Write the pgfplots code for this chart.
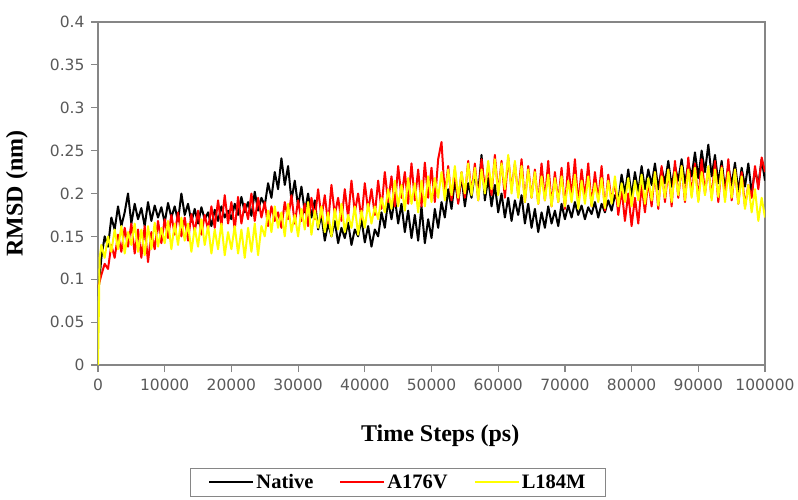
\documentclass[border=0pt]{standalone}
\usepackage{fontspec}
\setmainfont{Liberation Serif}
\newfontfamily\tickfont{DejaVu Sans}
\usepackage{pgfplots}
\pgfplotsset{compat=1.18}
\usepackage{pgfplotstable}
\definecolor{axgray}{HTML}{868686}
\definecolor{ticktext}{HTML}{595959}
\definecolor{myyellow}{HTML}{FFFF00}
\definecolor{myred}{HTML}{FF0000}

\pgfplotstableread{
x y
0 0.080
500 0.125
1000 0.150
1500 0.138
2000 0.172
2500 0.158
3000 0.185
3500 0.162
4000 0.178
4500 0.200
5000 0.165
5500 0.188
6000 0.170
6500 0.183
7000 0.162
7500 0.190
8000 0.168
8500 0.186
9000 0.172
9500 0.184
10000 0.166
10500 0.189
11000 0.172
11500 0.185
12000 0.168
12500 0.200
13000 0.175
13500 0.188
14000 0.167
14500 0.182
15000 0.165
15500 0.184
16000 0.170
16500 0.178
17000 0.162
17500 0.181
18000 0.168
18500 0.185
19000 0.172
19500 0.180
20000 0.170
20500 0.188
21000 0.175
21500 0.196
22000 0.178
22500 0.190
23000 0.174
23500 0.202
24000 0.180
24500 0.195
25000 0.186
25500 0.212
26000 0.195
26500 0.225
27000 0.205
27500 0.241
28000 0.210
28500 0.232
29000 0.192
29500 0.215
30000 0.185
30500 0.208
31000 0.178
31500 0.200
32000 0.172
32500 0.192
33000 0.158
33500 0.175
34000 0.145
34500 0.165
35000 0.150
35500 0.168
36000 0.142
36500 0.160
37000 0.148
37500 0.166
38000 0.140
38500 0.158
39000 0.150
39500 0.170
40000 0.143
40500 0.162
41000 0.138
41500 0.158
42000 0.150
42500 0.178
43000 0.160
43500 0.192
44000 0.170
44500 0.195
45000 0.165
45500 0.188
46000 0.155
46500 0.180
47000 0.148
47500 0.175
48000 0.145
48500 0.185
49000 0.142
49500 0.170
50000 0.148
50500 0.182
51000 0.160
51500 0.190
52000 0.172
52500 0.205
53000 0.182
53500 0.215
54000 0.190
54500 0.220
55000 0.185
55500 0.212
56000 0.195
56500 0.225
57000 0.200
57500 0.245
58000 0.192
58500 0.218
59000 0.185
59500 0.210
60000 0.178
60500 0.200
61000 0.172
61500 0.195
62000 0.168
62500 0.192
63000 0.175
63500 0.198
64000 0.165
64500 0.188
65000 0.160
65500 0.182
66000 0.155
66500 0.178
67000 0.160
67500 0.185
68000 0.165
68500 0.180
69000 0.162
69500 0.188
70000 0.170
70500 0.186
71000 0.172
71500 0.190
72000 0.175
72500 0.186
73000 0.170
73500 0.184
74000 0.176
74500 0.190
75000 0.172
75500 0.188
76000 0.178
76500 0.192
77000 0.180
77500 0.198
78000 0.190
78500 0.222
79000 0.200
79500 0.228
80000 0.196
80500 0.225
81000 0.202
81500 0.232
82000 0.205
82500 0.228
83000 0.210
83500 0.235
84000 0.205
84500 0.230
85000 0.212
85500 0.238
86000 0.208
86500 0.232
87000 0.215
87500 0.240
88000 0.212
88500 0.235
89000 0.220
89500 0.248
90000 0.218
90500 0.250
91000 0.225
91500 0.257
92000 0.220
92500 0.245
93000 0.212
93500 0.238
94000 0.205
94500 0.232
95000 0.210
95500 0.236
96000 0.202
96500 0.230
97000 0.208
97500 0.235
98000 0.200
98500 0.228
99000 0.210
99500 0.240
100000 0.215
}\native

\pgfplotstableread{
x y
0 0.090
500 0.105
1000 0.118
1500 0.112
2000 0.140
2500 0.125
3000 0.152
3500 0.132
4000 0.160
4500 0.138
5000 0.165
5500 0.130
6000 0.158
6500 0.125
7000 0.162
7500 0.120
8000 0.155
8500 0.135
9000 0.168
9500 0.142
10000 0.170
10500 0.148
11000 0.175
11500 0.152
12000 0.178
12500 0.150
13000 0.172
13500 0.145
14000 0.176
14500 0.155
15000 0.180
15500 0.152
16000 0.175
16500 0.158
17000 0.185
17500 0.160
18000 0.192
18500 0.162
19000 0.198
19500 0.165
20000 0.190
20500 0.158
21000 0.196
21500 0.165
22000 0.188
22500 0.170
23000 0.200
23500 0.168
24000 0.195
24500 0.172
25000 0.190
25500 0.162
26000 0.185
26500 0.168
27000 0.178
27500 0.160
28000 0.190
28500 0.170
29000 0.198
29500 0.165
30000 0.192
30500 0.168
31000 0.188
31500 0.162
32000 0.195
32500 0.170
33000 0.205
33500 0.172
34000 0.198
34500 0.165
35000 0.210
35500 0.175
36000 0.195
36500 0.168
37000 0.205
37500 0.172
38000 0.215
38500 0.178
39000 0.200
39500 0.170
40000 0.212
40500 0.180
41000 0.205
41500 0.175
42000 0.215
42500 0.182
43000 0.225
43500 0.190
44000 0.220
44500 0.185
45000 0.232
45500 0.195
46000 0.225
46500 0.188
47000 0.235
47500 0.192
48000 0.228
48500 0.185
49000 0.236
49500 0.195
50000 0.230
50500 0.190
51000 0.240
51500 0.260
52000 0.198
52500 0.232
53000 0.192
53500 0.228
54000 0.188
54500 0.225
55000 0.195
55500 0.238
56000 0.200
56500 0.235
57000 0.192
57500 0.240
58000 0.205
58500 0.232
59000 0.198
59500 0.245
60000 0.200
60500 0.238
61000 0.195
61500 0.242
62000 0.205
62500 0.235
63000 0.198
63500 0.240
64000 0.190
64500 0.232
65000 0.195
65500 0.228
66000 0.188
66500 0.235
67000 0.192
67500 0.238
68000 0.185
68500 0.225
69000 0.190
69500 0.230
70000 0.182
70500 0.236
71000 0.195
71500 0.240
72000 0.188
72500 0.228
73000 0.195
73500 0.235
74000 0.185
74500 0.225
75000 0.192
75500 0.232
76000 0.180
76500 0.222
77000 0.190
77500 0.215
78000 0.175
78500 0.205
79000 0.168
79500 0.200
80000 0.162
80500 0.195
81000 0.165
81500 0.210
82000 0.178
82500 0.215
83000 0.185
83500 0.225
84000 0.182
84500 0.232
85000 0.190
85500 0.228
86000 0.185
86500 0.238
87000 0.195
87500 0.232
88000 0.190
88500 0.242
89000 0.198
89500 0.235
90000 0.192
90500 0.240
91000 0.200
91500 0.230
92000 0.195
92500 0.238
93000 0.190
93500 0.232
94000 0.195
94500 0.240
95000 0.192
95500 0.228
96000 0.188
96500 0.225
97000 0.185
97500 0.210
98000 0.195
98500 0.232
99000 0.205
99500 0.242
100000 0.225
}\avariant

\pgfplotstableread{
x y
0 0.000
250 0.125
500 0.140
1000 0.125
1500 0.150
2000 0.132
2500 0.158
3000 0.135
3500 0.162
4000 0.130
4500 0.155
5000 0.140
5500 0.165
6000 0.132
6500 0.158
7000 0.128
7500 0.162
8000 0.135
8500 0.166
9000 0.138
9500 0.160
10000 0.142
10500 0.168
11000 0.135
11500 0.165
12000 0.140
12500 0.172
13000 0.145
13500 0.165
14000 0.132
14500 0.160
15000 0.138
15500 0.170
16000 0.140
16500 0.162
17000 0.130
17500 0.158
18000 0.135
18500 0.165
19000 0.128
19500 0.155
20000 0.135
20500 0.162
21000 0.130
21500 0.158
22000 0.125
22500 0.160
23000 0.132
23500 0.165
24000 0.128
24500 0.162
25000 0.150
25500 0.180
26000 0.155
26500 0.185
27000 0.160
27500 0.178
28000 0.150
28500 0.188
29000 0.155
29500 0.175
30000 0.150
30500 0.182
31000 0.158
31500 0.190
32000 0.152
32500 0.180
33000 0.160
33500 0.185
34000 0.155
34500 0.178
35000 0.150
35500 0.182
36000 0.158
36500 0.188
37000 0.155
37500 0.175
38000 0.160
38500 0.185
39000 0.152
39500 0.180
40000 0.160
40500 0.188
41000 0.165
41500 0.185
42000 0.170
42500 0.195
43000 0.178
43500 0.205
44000 0.182
44500 0.215
45000 0.185
45500 0.210
46000 0.180
46500 0.218
47000 0.188
47500 0.212
48000 0.178
48500 0.215
49000 0.185
49500 0.220
50000 0.190
50500 0.218
51000 0.195
51500 0.225
52000 0.192
52500 0.228
53000 0.198
53500 0.232
54000 0.195
54500 0.225
55000 0.200
55500 0.235
56000 0.198
56500 0.230
57000 0.192
57500 0.228
58000 0.200
58500 0.238
59000 0.205
59500 0.240
60000 0.198
60500 0.235
61000 0.205
61500 0.245
62000 0.200
62500 0.238
63000 0.195
63500 0.232
64000 0.190
64500 0.228
65000 0.195
65500 0.225
66000 0.188
66500 0.220
67000 0.192
67500 0.222
68000 0.185
68500 0.218
69000 0.190
69500 0.220
70000 0.185
70500 0.215
71000 0.190
71500 0.222
72000 0.182
72500 0.215
73000 0.188
73500 0.220
74000 0.185
74500 0.212
75000 0.190
75500 0.218
76000 0.183
76500 0.215
77000 0.188
77500 0.220
78000 0.185
78500 0.212
79000 0.190
79500 0.218
80000 0.185
80500 0.215
81000 0.192
81500 0.222
82000 0.188
82500 0.218
83000 0.192
83500 0.225
84000 0.186
84500 0.220
85000 0.195
85500 0.228
86000 0.190
86500 0.225
87000 0.198
87500 0.232
88000 0.192
88500 0.228
89000 0.195
89500 0.230
90000 0.190
90500 0.225
91000 0.198
91500 0.232
92000 0.192
92500 0.228
93000 0.196
93500 0.230
94000 0.190
94500 0.225
95000 0.195
95500 0.228
96000 0.188
96500 0.220
97000 0.182
97500 0.210
98000 0.178
98500 0.205
99000 0.168
99500 0.195
100000 0.172
}\lvariant

\begin{document}
\begin{tikzpicture}
\useasboundingbox (0,0) rectangle (798pt,499pt);
\begin{axis}[
  at={(98pt,134pt)}, anchor=south west,
  scale only axis, width=667pt, height=343pt,
  xmin=0, xmax=100000, ymin=0, ymax=0.4,
  xtick={0,10000,20000,30000,40000,50000,60000,70000,80000,90000,100000},
  xticklabels={0,10000,20000,30000,40000,50000,60000,70000,80000,90000,100000},
  ytick={0,0.05,0.1,0.15,0.2,0.25,0.3,0.35,0.4},
  yticklabels={0,0.05,0.1,0.15,0.2,0.25,0.3,0.35,0.4},
  scaled x ticks=false, scaled y ticks=false,
  /pgf/number format/assume math mode=true,
  axis line style={axgray, line width=1.2pt},
  tick style={axgray, line width=1.2pt},
  tick align=outside, major tick length=7pt,
  xtick pos=bottom, ytick pos=left,
  ticklabel style={font=\tickfont\fontsize{15.5}{18}\selectfont, text=ticktext},
  xticklabel style={yshift=-3pt},
  yticklabel style={xshift=-3pt},
  xlabel={\textbf{Time Steps (ps)}},
  xlabel style={font=\fontsize{24}{28}\selectfont, at={(axis description cs:0.513,-0.222)}, anchor=base},
  ylabel={\textbf{RMSD (nm)}},
  ylabel style={font=\fontsize{24}{28}\selectfont, at={(axis description cs:-0.1,0.5)}, anchor=south},
  legend columns=3,
  legend style={at={(axis description cs:0.4498,-0.3003)}, anchor=north,
    draw=axgray, line width=1.2pt, font=\bfseries\fontsize{20.5}{24}\selectfont,
    /tikz/every even column/.append style={column sep=24pt},
    inner xsep=18pt, inner ysep=4pt},
  legend image code/.code={\draw[#1, line width=2pt] (0pt,0pt) -- (44pt,0pt);},
]
\addplot[black, line width=2pt, line join=round] table[x=x,y=y] {\native};
\addlegendentry{Native}
\addplot[myred, line width=2pt, line join=round] table[x=x,y=y] {\avariant};
\addlegendentry{A176V}
\addplot[myyellow, line width=2pt, line join=round] table[x=x,y=y] {\lvariant};
\addlegendentry{L184M}
\end{axis}
\end{tikzpicture}
\end{document}
